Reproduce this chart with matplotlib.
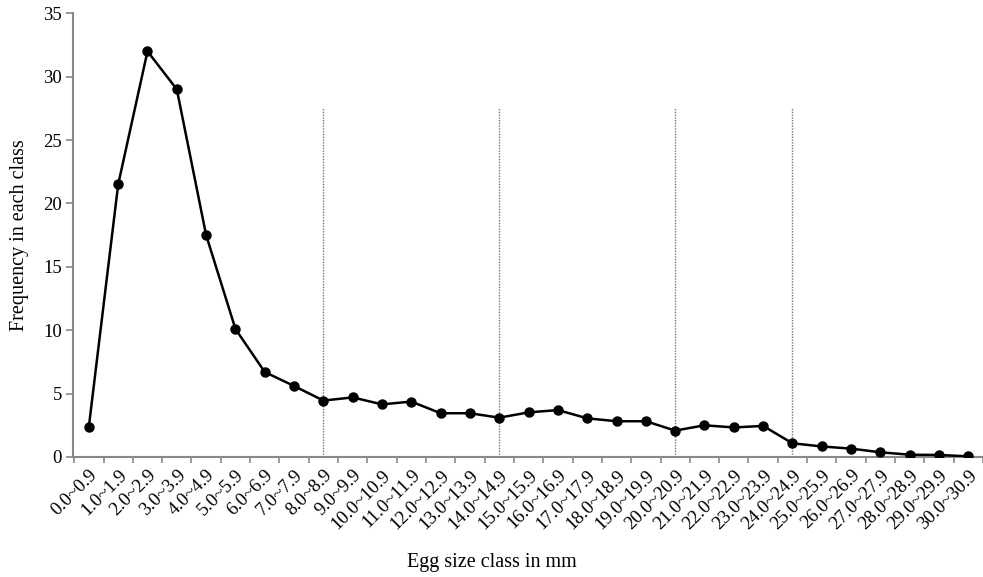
import matplotlib
matplotlib.use('Agg')
import matplotlib.pyplot as plt
import numpy as np

# egg size classes (mm) and frequency
classes = [f"{i}.0~{i}.9" for i in range(31)]
freq = [2.4, 21.5, 32.0, 29.0, 17.5, 10.1, 6.7, 5.6, 4.45, 4.7,
        4.15, 4.37, 3.45, 3.45, 3.1, 3.52, 3.7, 3.05, 2.82, 2.82,
        2.08, 2.5, 2.33, 2.45, 1.08, 0.83, 0.66, 0.37, 0.18, 0.16,
        0.05]
marked = [8, 14, 20, 24]   # classes with dotted separators
sep_top = 27.6

plt.rcParams['font.family'] = ['Liberation Serif', 'DejaVu Serif']

fig = plt.figure(figsize=(9.83, 5.77), dpi=100)
ax = fig.add_axes([0.0743, 0.208, 0.9257, 0.769])

x = np.arange(len(classes))
ax.vlines([x[i] for i in marked], 0, sep_top, colors='#777777',
          linestyles=(0, (1, 1)), linewidth=1.0, zorder=1)
ax.plot(x, freq, color='black', linewidth=1.8, marker='o',
        markersize=6.5, markerfacecolor='black', zorder=3)

ax.set_xlim(-0.54, 30.27)
ax.set_ylim(0, 35)
ax.set_yticks(range(0, 36, 5))
ax.set_xticks(x)
ax.set_xticklabels(classes, rotation=45, ha='right', va='top',
                   rotation_mode='anchor', fontsize=13.5)
ax.set_xticks(np.arange(-0.5, 31, 1), minor=True)
ax.tick_params(axis='x', which='major', length=0, pad=7)
ax.tick_params(axis='x', which='minor', length=4, color='#888888', width=1.2)
ax.tick_params(axis='y', length=5, color='#888888', width=1.2,
               labelsize=13.5, pad=3)

for s in ['top', 'right']:
    ax.spines[s].set_visible(False)
for s in ['left', 'bottom']:
    ax.spines[s].set_color('#888888')
    ax.spines[s].set_linewidth(1.5)

ax.set_ylabel("Frequency in each class", fontsize=14.5, labelpad=10)
fig.text(0.5, 0.018, "Egg size class in mm", ha='center', fontsize=14.5)

fig.savefig('out.png', dpi=100)
